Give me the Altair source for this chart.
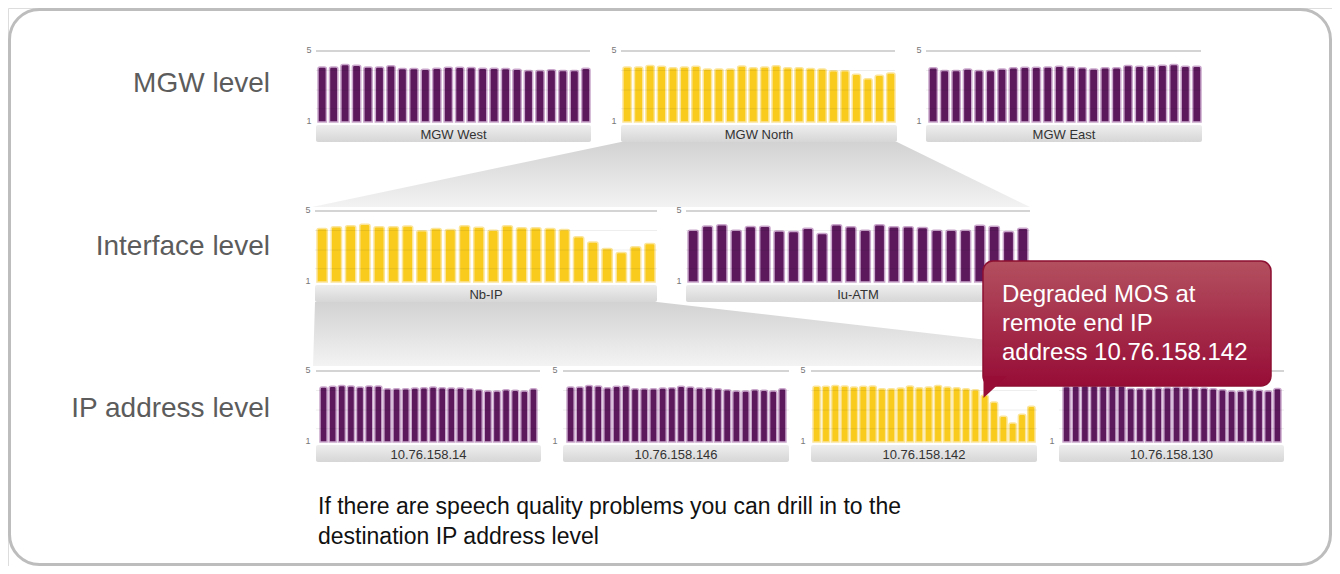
import altair as alt
import pandas as pd

# ---------------- data (MOS per hour, 24 hours) ----------------
hours = list(range(1, 25))

mgw_west = [4.10, 4.10, 4.24, 4.20, 4.10, 4.10, 4.17, 4.01, 4.01, 3.97, 4.03, 4.09,
            4.09, 4.07, 4.03, 4.03, 4.01, 3.97, 3.90, 3.90, 3.95, 3.90, 3.90, 4.03]
mgw_north = [4.10, 4.10, 4.19, 4.14, 4.06, 4.10, 4.14, 3.99, 3.99, 3.99, 4.15, 4.06,
             4.10, 4.17, 4.06, 4.06, 4.02, 3.99, 3.89, 3.89, 3.69, 3.44, 3.63, 3.76]
mgw_east = [4.05, 3.90, 3.90, 3.99, 3.90, 3.90, 3.99, 4.05, 4.09, 4.09, 4.10, 4.14,
            4.10, 4.05, 3.99, 4.05, 4.05, 4.18, 4.14, 4.14, 4.20, 4.24, 4.14, 4.14]
nb_ip = [4.02, 4.11, 4.17, 4.25, 4.11, 4.11, 4.15, 3.89, 4.02, 3.96, 4.17, 4.08,
         3.92, 4.17, 4.06, 4.06, 4.02, 3.96, 3.55, 3.26, 2.89, 2.66, 2.98, 3.17]
iu_atm = [3.92, 4.16, 4.22, 3.92, 4.13, 4.14, 3.88, 3.85, 4.03, 3.73, 4.22, 4.11,
          3.92, 4.22, 4.11, 4.11, 4.07, 3.92, 3.92, 3.92, 4.20, 4.14, 3.85, 4.03]
ip_14 = [4.10, 4.14, 4.19, 4.15, 4.10, 4.15, 4.15, 4.00, 4.00, 4.00, 4.04, 4.06,
         4.10, 4.06, 4.04, 4.04, 4.00, 3.95, 3.87, 3.87, 3.95, 3.91, 3.87, 4.00]
ip_146 = [4.10, 4.10, 4.19, 4.15, 4.06, 4.14, 4.15, 4.00, 4.00, 4.00, 4.04, 4.06,
          4.14, 4.10, 4.04, 4.04, 4.00, 3.95, 3.87, 3.87, 3.95, 3.91, 3.87, 4.00]
ip_142 = [4.14, 4.14, 4.19, 4.15, 4.10, 4.14, 4.15, 4.00, 4.00, 4.04, 4.15, 4.06,
          4.10, 4.19, 4.10, 4.06, 4.00, 3.95, 3.63, 3.25, 2.45, 2.07, 2.56, 3.01]
ip_130 = [4.12, 4.15, 4.19, 4.17, 4.12, 4.15, 4.15, 4.02, 4.00, 4.00, 4.04, 4.06,
          4.10, 4.06, 4.04, 4.04, 4.00, 3.95, 3.87, 3.87, 3.95, 3.91, 3.87, 4.02]

panel_names = ["MGW West", "MGW North", "MGW East", "Nb-IP", "Iu-ATM",
               "10.76.158.14", "10.76.158.146", "10.76.158.142", "10.76.158.130"]
panel_values = [mgw_west, mgw_north, mgw_east, nb_ip, iu_atm, ip_14, ip_146, ip_142, ip_130]
panel_degraded = [False, True, False, True, False, False, False, True, False]
tick_values = [5, 1]
faint_grid = [3.9, 2.8, 1.75]

row_labels = ["MGW level", "Interface level", "IP address level"]
callout_lines = ["Degraded MOS at", "remote end IP", "address 10.76.158.142"]
footer_lines = ["If there are speech quality problems you can drill in to the",
                "destination IP address level"]

# ---------------- layout (page pixels) ----------------
OFF = 8
W, H = 1324, 558
FONT = "Liberation Sans"

rows = {  # ytop(=5), ybot(=1), label bar y0, y1, padding
    0: dict(ytop=51, ybot=122, lb0=125, lb1=142, pad=0.27),
    1: dict(ytop=211, ybot=282, lb0=285, lb1=302, pad=0.28),
    2: dict(ytop=371, ybot=442, lb0=445, lb1=462, pad=0.22),
}
# row, bars x0, x1, grid x0, x1, label-bar x0, x1, tick-label x
geo = [
    (0, 318, 590, 316, 590, 316, 591, 309),
    (0, 623, 895, 621, 895, 621, 897, 614),
    (0, 929, 1201, 926, 1201, 926, 1202, 919),
    (1, 317, 655, 315, 657, 315, 657, 308),
    (1, 688, 1028, 686, 1030, 686, 1030, 679),
    (2, 320, 537, 316, 540, 316, 541, 308),
    (2, 567, 786, 563, 789, 563, 789, 555),
    (2, 813, 1035, 811, 1037, 811, 1037, 803),
    (2, 1063, 1281, 1059, 1284, 1059, 1284, 1052),
]

PURPLE, PURPLE_EDGE = "#5c1a5d", "#caa6cc"
YELLOW, YELLOW_EDGE = "#f8cb1d", "#fbe59a"

one = pd.DataFrame({"k": [0]})


def grad(c0, c1):
    return alt.Gradient(gradient="linear",
                        stops=[alt.GradientStop(color=c0, offset=0),
                               alt.GradientStop(color=c1, offset=1)],
                        x1=0, x2=0, y1=0, y2=1)


def vrect(x0, x1, y0, y1, **kw):
    return alt.Chart(one).mark_rect(**kw).encode(
        x=alt.value(x0 - OFF), x2=alt.value(x1 - OFF),
        y=alt.value(y0 - OFF), y2=alt.value(y1 - OFF))


def vtext(x, y, s, **kw):
    return alt.Chart(one).mark_text(text=s, font=FONT, **kw).encode(
        x=alt.value(x - OFF), y=alt.value(y - OFF))


CX = alt.Scale(domain=[0, W], range=[0, W], zero=False, nice=False)
CY = alt.Scale(domain=[0, H], range=[0, H], zero=False, nice=False)


def shape(pts, **kw):
    df = pd.DataFrame([(y - OFF, a - OFF, b - OFF) for y, a, b in pts], columns=["y", "xl", "xr"])
    return alt.Chart(df).mark_area(orient="horizontal", **kw).encode(
        y=alt.Y("y:Q", scale=CY, axis=None),
        x=alt.X("xl:Q", scale=CX, axis=None),
        x2="xr:Q")


def panel(name, vals, degraded, g):
    r, bx0, bx1, gx0, gx1, lx0, lx1, tx = g
    rw = rows[r]
    df = pd.DataFrame({"hour": hours, "mos": vals})
    xs = alt.Scale(domain=hours, range=[bx0 - OFF, bx1 - OFF], paddingInner=rw["pad"], paddingOuter=0)
    ys = alt.Scale(domain=[1, 5], range=[rw["ybot"] - OFF, rw["ytop"] - OFF], zero=False, nice=False)
    fill, edge = (YELLOW, YELLOW_EDGE) if degraded else (PURPLE, PURPLE_EDGE)
    grid5 = alt.Chart(pd.DataFrame({"g": [5]})).mark_rule(color="#d4d4d4", strokeWidth=2).encode(
        y=alt.Y("g:Q", scale=ys, axis=None), x=alt.value(gx0 - OFF), x2=alt.value(gx1 - OFF))
    bars = alt.Chart(df).mark_bar(fill=fill, stroke=edge, strokeWidth=1.5,
                                  cornerRadiusTopLeft=2, cornerRadiusTopRight=2).encode(
        x=alt.X("hour:O", scale=xs, axis=None),
        y=alt.Y("mos:Q", scale=ys, axis=None),
        y2=alt.datum(1))
    gridf = alt.Chart(pd.DataFrame({"g": faint_grid})).mark_rule(color="#000000", opacity=0.07, strokeWidth=1).encode(
        y=alt.Y("g:Q", scale=ys, axis=None), x=alt.value(gx0 - OFF), x2=alt.value(gx1 - OFF))
    ticks = alt.Chart(pd.DataFrame({"v": tick_values, "t": [str(v) for v in tick_values]})).mark_text(
        font=FONT, fontSize=9, color="#777777", dy=-1).encode(
        y=alt.Y("v:Q", scale=ys, axis=None), x=alt.value(tx - OFF), text="t:N")
    lbar = vrect(lx0, lx1, rw["lb0"], rw["lb1"], fill=grad("#eeeeee", "#d6d6d6"), cornerRadius=2)
    ltext = vtext((lx0 + lx1) / 2, (rw["lb0"] + rw["lb1"]) / 2 + 1, name, fontSize=13, color="#333333",
                  align="center", baseline="middle")
    return alt.layer(grid5, bars, gridf, ticks, lbar, ltext)


border = vrect(9.5, 1330.5, 9.5, 564.5, fill="white", stroke="#bdbdbd", strokeWidth=3, cornerRadius=30)

funnel_fill = grad("#d2d2d2", "#f3f3f3")
funnels = alt.layer(
    shape([(142, 621, 897), (207, 312, 1030)], fill=funnel_fill),
    shape([(302, 315, 657), (366, 313, 1215)], fill=funnel_fill),
)

row_text = alt.layer(*[
    vtext(270, y, s, fontSize=28, color="#5c5c5c", align="right", baseline="alphabetic")
    for s, y in zip(row_labels, [92, 255, 417])
])

panels = [panel(n, v, d, g) for n, v, d, g in zip(panel_names, panel_values, panel_degraded, geo)]

callout_rect = vrect(983, 1271, 261, 386, fill=grad("#b3505f", "#970c36"), stroke="#8d0f32",
                     strokeWidth=1.5, cornerRadius=10)
callout_tail = shape([(376, 983.5, 1007), (398, 983.5, 983.5)], fill="#970d36")
callout_text = vtext(1002, 301.5, callout_lines, fontSize=24, color="white", align="left",
                     baseline="alphabetic", lineHeight=29)

footer = alt.layer(*[
    vtext(318, y, s, fontSize=23, color="#111111", align="left", baseline="middle")
    for s, y in zip(footer_lines, [507, 537])
])

chart = alt.layer(
    border, funnels, row_text, *panels, callout_rect, callout_tail, callout_text, footer
).resolve_scale(x="independent", y="independent").properties(
    width=W, height=H, autosize=alt.AutoSizeParams(type="none"), padding=0
).configure_view(strokeWidth=0).configure(background="white")

chart.save("out.html", embed_options={"renderer": "svg", "actions": False})
